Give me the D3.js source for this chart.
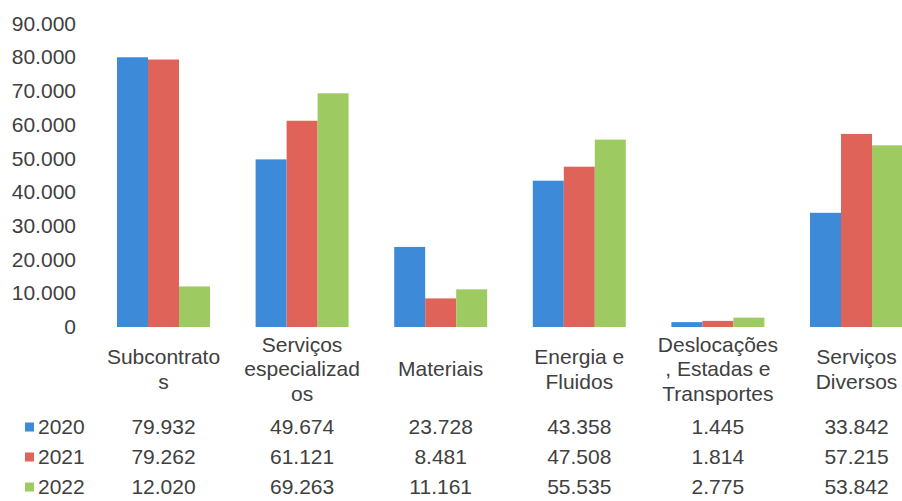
<!DOCTYPE html>
<html>
<head>
<meta charset="utf-8">
<script src="https://cdn.jsdelivr.net/npm/d3@7"></script>
<style>
  html, body { margin: 0; padding: 0; background: #fff; }
  svg { display: block; }
  text { font-family: "Liberation Sans", Arial, sans-serif; fill: #404040; }
</style>
</head>
<body>
<svg id="chart" width="902" height="501"></svg>
<script>
const categories = ["Subcontratos", "Serviços especializados", "Materiais", "Energia e Fluidos", "Deslocações, Estadas e Transportes", "Serviços Diversos"];
const categoryLabelLines = [
  ["Subcontrato", "s"],
  ["Serviços", "especializad", "os"],
  ["Materiais"],
  ["Energia e", "Fluidos"],
  ["Deslocações", ", Estadas e", "Transportes"],
  ["Serviços", "Diversos"]
];
const seriesNames = ["2020", "2021", "2022"];
const values2020 = [79932, 49674, 23728, 43358, 1445, 33842];
const values2021 = [79262, 61121, 8481, 47508, 1814, 57215];
const values2022 = [12020, 69263, 11161, 55535, 2775, 53842];
const yTicks = [0, 10000, 20000, 30000, 40000, 50000, 60000, 70000, 80000, 90000];
const colors = ["#3d8ad8", "#e0635a", "#9dcb62"];

const series = [values2020, values2021, values2022];
const locale = d3.formatLocale({decimal: ",", thousands: ".", grouping: [3], currency: ["", "€"]});
const fmt = locale.format(",d");

const svg = d3.select("#chart");
const fontSize = 21;

const x0 = d3.scaleBand().domain(categories).range([94.2, 925.8]).paddingInner(0.329).paddingOuter(0.1645);
const x1 = d3.scaleBand().domain(seriesNames).range([0, x0.bandwidth()]);
const y = d3.scaleLinear().domain([0, 90000]).range([327, 23.3]);

// Y axis
const yAxis = svg.append("g").attr("transform", "translate(76,0)")
  .call(d3.axisLeft(y).tickValues(yTicks).tickSize(0).tickPadding(0).tickFormat(fmt));
yAxis.select(".domain").remove();
yAxis.selectAll("text").style("font-size", fontSize + "px")
  .style("font-family", '"Liberation Sans", Arial, sans-serif').attr("fill", "#404040");

// Bars
const groups = svg.append("g").selectAll("g").data(categories).join("g")
  .attr("transform", d => `translate(${x0(d)},0)`);
groups.selectAll("rect")
  .data((d, i) => seriesNames.map((s, j) => ({s, v: series[j][i], j})))
  .join("rect")
  .attr("x", d => x1(d.s))
  .attr("width", x1.bandwidth())
  .attr("y", d => y(d.v))
  .attr("height", d => y(0) - y(d.v))
  .attr("fill", d => colors[d.j]);

// Category labels
const lineH = 24.5, labelMid = 369;
categories.forEach((c, i) => {
  const lines = categoryLabelLines[i];
  const cx = x0(c) + x0.bandwidth() / 2;
  const t = svg.append("text").attr("text-anchor", "middle").style("font-size", fontSize + "px");
  lines.forEach((ln, k) => {
    t.append("tspan").attr("x", cx)
      .attr("y", labelMid + (k - (lines.length - 1) / 2) * lineH)
      .attr("dy", "0.35em").text(ln);
  });
});

// Data table
const rowY = [427, 457, 487];
seriesNames.forEach((s, j) => {
  svg.append("rect").attr("x", 25).attr("y", rowY[j] - 4.5).attr("width", 9).attr("height", 9).attr("fill", colors[j]);
  svg.append("text").attr("x", 38).attr("y", rowY[j]).attr("dy", "0.35em").style("font-size", fontSize + "px").text(s);
  categories.forEach((c, i) => {
    svg.append("text").attr("x", x0(c) + x0.bandwidth() / 2).attr("y", rowY[j]).attr("dy", "0.35em")
      .attr("text-anchor", "middle").style("font-size", fontSize + "px").text(fmt(series[j][i]));
  });
});
</script>
</body>
</html>
